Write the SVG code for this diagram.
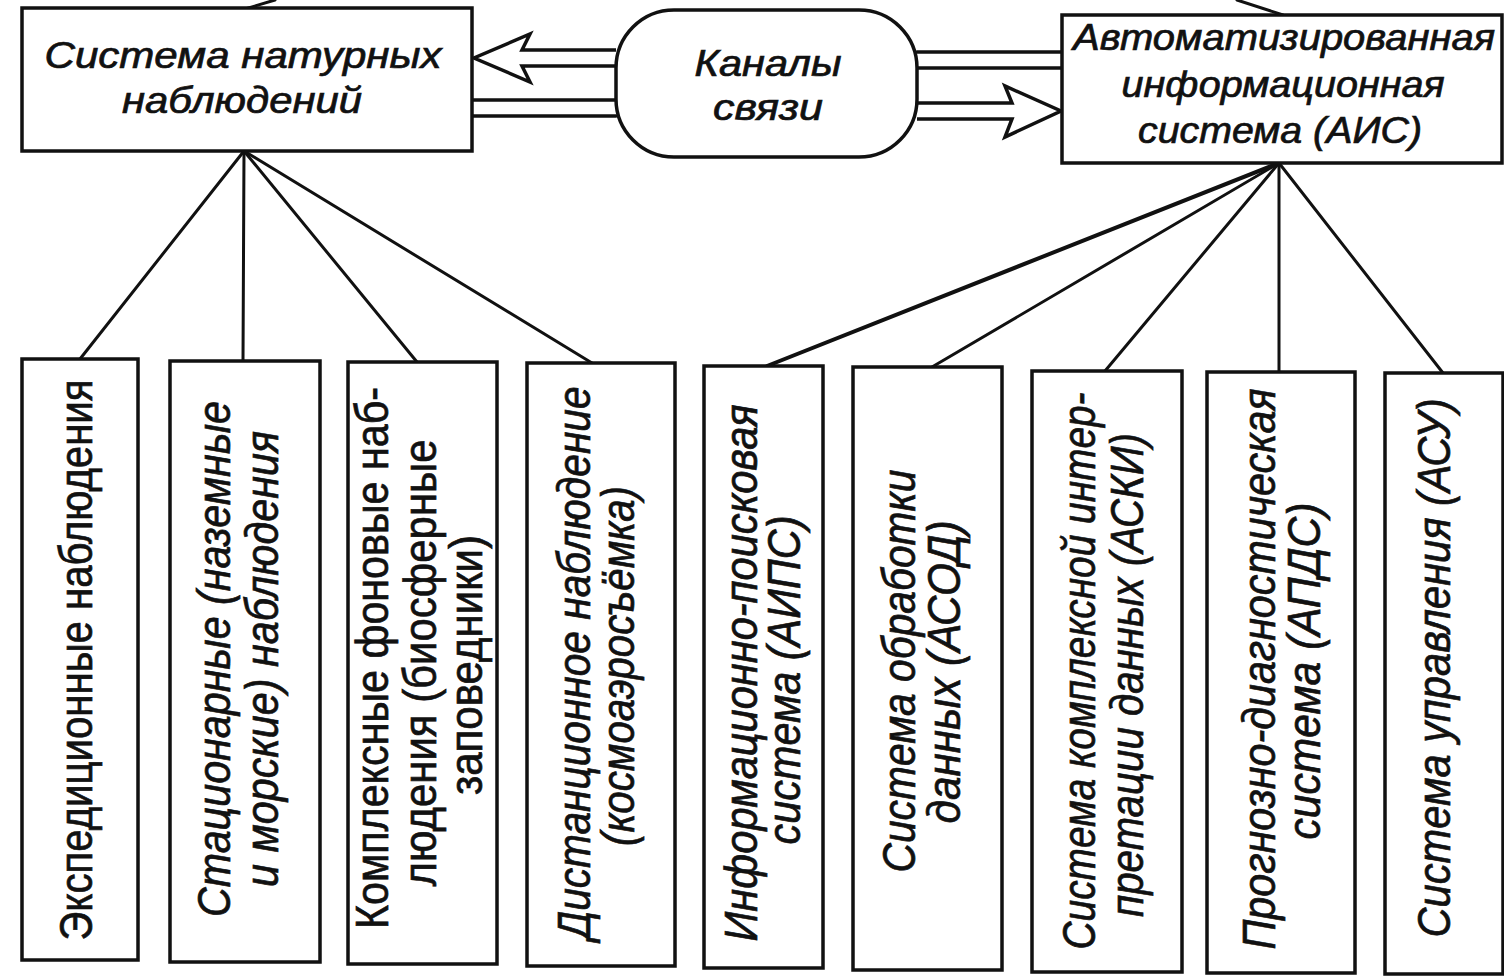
<svg xmlns="http://www.w3.org/2000/svg" width="1504" height="977" viewBox="0 0 1504 977">
<style>
.box{fill:#fff;stroke:#111;stroke-width:3.5}
.conn{stroke:#111;stroke-width:3;fill:none;stroke-linecap:round}
.dbl{stroke:#111;stroke-width:3.5;fill:#fff;stroke-linejoin:miter}
.t{font-family:"Liberation Sans",Arial,sans-serif;fill:#111;stroke:#111;stroke-width:0.7}
.h{font-size:36px;font-style:italic}
.v{font-size:46px}
.i{font-style:italic}
</style>
<rect width="1504" height="977" fill="#fff"/>
<g id="connectors">
  <line class="conn" x1="245" y1="9" x2="275" y2="0"/>
  <line class="conn" x1="1237" y1="0" x2="1283" y2="15"/>
  <line class="conn" x1="244" y1="151" x2="80" y2="359"/>
  <line class="conn" x1="244" y1="151" x2="243" y2="361"/>
  <line class="conn" x1="244" y1="151" x2="417" y2="362"/>
  <line class="conn" x1="244" y1="151" x2="592" y2="363"/>
  <line class="conn" x1="1279" y1="163" x2="767" y2="366" style="stroke-width:4"/>
  <line class="conn" x1="1279" y1="163" x2="932" y2="367"/>
  <line class="conn" x1="1279" y1="163" x2="1105" y2="371"/>
  <line class="conn" x1="1279" y1="163" x2="1279" y2="372"/>
  <line class="conn" x1="1279" y1="163" x2="1443" y2="373"/>
  <path class="dbl" d="M616,50 H522 L530,34 L474,58 L530,82 L522,66 H616"/>
  <path class="conn" style="stroke-width:3.5" d="M472,100 H616 M472,116 H616"/>
  <path class="conn" style="stroke-width:3.5" d="M917,52 H1062 M917,68 H1062"/>
  <path class="dbl" d="M917,103 H1012 L1005,86 L1061,111 L1005,137 L1012,119 H917"/>
</g>
<g id="node-natural">
  <rect class="box" x="22" y="8" width="450" height="143"/>
  <text class="t h" x="243" y="68" text-anchor="middle" textLength="397" lengthAdjust="spacingAndGlyphs">Система натурных</text>
  <text class="t h" x="242" y="113" text-anchor="middle" textLength="240" lengthAdjust="spacingAndGlyphs">наблюдений</text>
</g>
<g id="node-channels">
  <rect class="box" x="616" y="10" width="301" height="147" rx="58" ry="58"/>
  <text class="t h" x="768" y="76" text-anchor="middle" textLength="147" lengthAdjust="spacingAndGlyphs">Каналы</text>
  <text class="t h" x="768" y="120" text-anchor="middle" textLength="110" lengthAdjust="spacingAndGlyphs">связи</text>
</g>
<g id="node-ais">
  <rect class="box" x="1062" y="15" width="440" height="148"/>
  <text class="t h" x="1284" y="50" text-anchor="middle" textLength="422" lengthAdjust="spacingAndGlyphs">Автоматизированная</text>
  <text class="t h" x="1283" y="97" text-anchor="middle" textLength="323" lengthAdjust="spacingAndGlyphs">информационная</text>
  <text class="t h" x="1280" y="143" text-anchor="middle" textLength="284" lengthAdjust="spacingAndGlyphs">система (АИС)</text>
</g>
<g id="node-b1">
  <rect class="box" x="22" y="359" width="116" height="601"/>
  <text class="t v" transform="translate(92,660) rotate(-90)" text-anchor="middle" textLength="561" lengthAdjust="spacingAndGlyphs">Экспедиционные наблюдения</text>
</g>
<g id="node-b2">
  <rect class="box" x="170" y="361" width="150" height="601"/>
  <text class="t v i" transform="translate(230,659) rotate(-90)" text-anchor="middle" textLength="516" lengthAdjust="spacingAndGlyphs">Стационарные (наземные</text>
  <text class="t v i" transform="translate(278,659) rotate(-90)" text-anchor="middle" textLength="456" lengthAdjust="spacingAndGlyphs">и морские) наблюдения</text>
</g>
<g id="node-b3">
  <rect class="box" x="348" y="362" width="149" height="602"/>
  <text class="t v" transform="translate(388,658) rotate(-90)" text-anchor="middle" textLength="542" lengthAdjust="spacingAndGlyphs">Комплексные фоновые наб-</text>
  <text class="t v" transform="translate(436,663) rotate(-90)" text-anchor="middle" textLength="447" lengthAdjust="spacingAndGlyphs">людения (биосферные</text>
  <text class="t v" transform="translate(482,665) rotate(-90)" text-anchor="middle" textLength="260" lengthAdjust="spacingAndGlyphs">заповедники)</text>
</g>
<g id="node-b4">
  <rect class="box" x="527" y="363" width="148" height="603"/>
  <text class="t v i" transform="translate(590,663) rotate(-90)" text-anchor="middle" textLength="553" lengthAdjust="spacingAndGlyphs">Дистанционное наблюдение</text>
  <text class="t v i" transform="translate(634,666) rotate(-90)" text-anchor="middle" textLength="360" lengthAdjust="spacingAndGlyphs">(космоаэросъёмка)</text>
</g>
<g id="node-b5">
  <rect class="box" x="704" y="366" width="119" height="602"/>
  <text class="t v i" transform="translate(757,673) rotate(-90)" text-anchor="middle" textLength="537" lengthAdjust="spacingAndGlyphs">Информационно-поисковая</text>
  <text class="t v i" transform="translate(800,680) rotate(-90)" text-anchor="middle" textLength="329" lengthAdjust="spacingAndGlyphs">система (АИПС)</text>
</g>
<g id="node-b6">
  <rect class="box" x="853" y="367" width="149" height="603"/>
  <text class="t v i" transform="translate(915,671) rotate(-90)" text-anchor="middle" textLength="403" lengthAdjust="spacingAndGlyphs">Система обработки</text>
  <text class="t v i" transform="translate(960,672) rotate(-90)" text-anchor="middle" textLength="303" lengthAdjust="spacingAndGlyphs">данных (АСОД)</text>
</g>
<g id="node-b7">
  <rect class="box" x="1032" y="371" width="150" height="601"/>
  <text class="t v i" transform="translate(1095,671) rotate(-90)" text-anchor="middle" textLength="557" lengthAdjust="spacingAndGlyphs">Система комплексной интер-</text>
  <text class="t v i" transform="translate(1143,675) rotate(-90)" text-anchor="middle" textLength="484" lengthAdjust="spacingAndGlyphs">претации данных (АСКИ)</text>
</g>
<g id="node-b8">
  <rect class="box" x="1207" y="372" width="148" height="601"/>
  <text class="t v i" transform="translate(1275,669) rotate(-90)" text-anchor="middle" textLength="561" lengthAdjust="spacingAndGlyphs">Прогнозно-диагностическая</text>
  <text class="t v i" transform="translate(1320,671) rotate(-90)" text-anchor="middle" textLength="337" lengthAdjust="spacingAndGlyphs">система (АПДС)</text>
</g>
<g id="node-b9">
  <rect class="box" x="1385" y="373" width="118" height="601"/>
  <text class="t v i" transform="translate(1450,668) rotate(-90)" text-anchor="middle" textLength="539" lengthAdjust="spacingAndGlyphs">Система управления (АСУ)</text>
</g>
</svg>
